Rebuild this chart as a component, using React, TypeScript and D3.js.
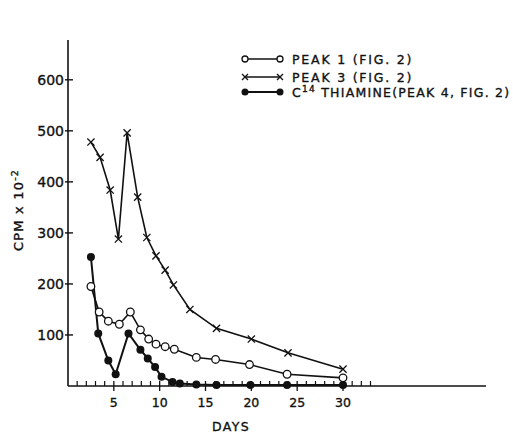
import React from "react";
import * as d3 from "d3";

// Days after administration for each fraction
const peak1Days = [2.5, 3.4, 4.4, 5.6, 6.8, 7.9, 8.8, 9.6, 10.6, 11.6, 14.0, 16.1, 19.8, 23.9, 30];
const peak1Cpm = [195, 145, 127, 121, 145, 110, 92, 82, 77, 72, 56, 52, 42, 23, 16];

const peak3Days = [2.5, 3.5, 4.6, 5.5, 6.45, 7.6, 8.6, 9.6, 10.6, 11.5, 13.3, 16.2, 20, 24, 30];
const peak3Cpm = [478, 448, 384, 288, 496, 370, 291, 255, 227, 198, 150, 113, 92, 65, 33];

const thiamineDays = [2.5, 3.3, 4.4, 5.2, 6.6, 7.9, 8.7, 9.5, 10.2, 11.4, 12.2, 14.0, 16.2, 19.9, 23.9, 30];
const thiamineCpm = [253, 103, 50, 23, 103, 71, 54, 37, 18, 8, 5, 3, 2, 2, 2, 2];

const xMajorTicks = [5, 10, 15, 20, 25, 30];
const xMinorTicks = d3.range(1, 34).filter((d) => d % 5 !== 0);
const yTicks = [100, 200, 300, 400, 500, 600];

const FONT = "'DejaVu Sans', Verdana, sans-serif";
const INK = "#111";

export default function App() {
  const width = 513;
  const height = 433;
  const x = d3.scaleLinear().domain([0, 45.6]).range([68, 486]);
  const y = d3.scaleLinear().domain([0, 678]).range([386, 40]);

  const line = d3
    .line<[number, number]>()
    .x((d) => x(d[0]))
    .y((d) => y(d[1]));

  const zip = (a: number[], b: number[]) => a.map((d, i) => [d, b[i]] as [number, number]);
  const p1 = zip(peak1Days, peak1Cpm);
  const p3 = zip(peak3Days, peak3Cpm);
  const th = zip(thiamineDays, thiamineCpm);

  const cross = (cx: number, cy: number, s: number, key: string) => (
    <path
      key={key}
      d={`M${cx - s},${cy - s}L${cx + s},${cy + s}M${cx - s},${cy + s}L${cx + s},${cy - s}`}
      stroke={INK}
      strokeWidth={1.3}
      fill="none"
    />
  );

  const x0 = x(0);
  const yBase = y(0);
  const textInk = { fill: INK, stroke: INK, strokeWidth: 0.35 };

  return (
    <svg
      width={width}
      height={height}
      style={{ position: "absolute", left: 0, top: 0, background: "#fff" }}
      fontFamily={FONT}
    >
      <rect width={width} height={height} fill="#fff" />

      {/* axes */}
      <line x1={x0} x2={x0} y1={y(678)} y2={yBase} stroke={INK} strokeWidth={1.6} />
      <line x1={x0} x2={x(45.6)} y1={yBase} y2={yBase} stroke={INK} strokeWidth={1.6} />

      {yTicks.map((t) => (
        <g key={`yt${t}`}>
          <line x1={x0 - 3} x2={x0 + 5} y1={y(t)} y2={y(t)} stroke={INK} strokeWidth={1.4} />
          <text x={x0 - 4} y={y(t)} dy="0.36em" textAnchor="end" fontSize={14} {...textInk}>
            {t}
          </text>
        </g>
      ))}

      {xMinorTicks.map((t) => (
        <line key={`xm${t}`} x1={x(t)} x2={x(t)} y1={yBase} y2={yBase - 5} stroke={INK} strokeWidth={1.2} />
      ))}
      {xMajorTicks.map((t) => (
        <g key={`xM${t}`}>
          <line x1={x(t)} x2={x(t)} y1={yBase - 5} y2={yBase + 5} stroke={INK} strokeWidth={1.3} />
          <text x={x(t)} y={407} textAnchor="middle" fontSize={12.5} {...textInk}>
            {t}
          </text>
        </g>
      ))}

      <text x={231} y={431} textAnchor="middle" fontSize={12.5} letterSpacing={1.4} {...textInk}>
        DAYS
      </text>
      <text
        transform={`translate(23,210) rotate(-90)`}
        textAnchor="middle"
        fontSize={13}
        letterSpacing={1.2}
        {...textInk}
      >
        CPM x 10
        <tspan dy={-5} fontSize={9.5}>
          -2
        </tspan>
      </text>

      {/* series lines */}
      <path d={line(p3) || ""} fill="none" stroke={INK} strokeWidth={1.6} />
      <path d={line(p1) || ""} fill="none" stroke={INK} strokeWidth={1.6} />
      <path d={line(th) || ""} fill="none" stroke={INK} strokeWidth={2} />

      {/* markers */}
      {p3.map((d, i) => cross(x(d[0]), y(d[1]), 3.6, `c${i}`))}
      {p1.map((d, i) => (
        <circle key={`o${i}`} cx={x(d[0])} cy={y(d[1])} r={3.8} fill="#fff" stroke={INK} strokeWidth={1.3} />
      ))}
      {th.map((d, i) => (
        <circle key={`f${i}`} cx={x(d[0])} cy={y(d[1])} r={4} fill={INK} />
      ))}

      {/* legend */}
      <g fontSize={12.5} letterSpacing={1.8}>
        <line x1={245} x2={280} y1={59} y2={59} stroke={INK} strokeWidth={1.5} />
        <circle cx={245} cy={59} r={3} fill="#fff" stroke={INK} strokeWidth={1.3} />
        <circle cx={280} cy={59} r={3} fill="#fff" stroke={INK} strokeWidth={1.3} />
        <text x={292} y={63.5} {...textInk}>PEAK 1 (FIG. 2)</text>

        <line x1={245} x2={280} y1={77} y2={77} stroke={INK} strokeWidth={1.5} />
        {cross(245, 77, 3, "lx1")}
        {cross(280, 77, 3, "lx2")}
        <text x={292} y={81.5} {...textInk}>PEAK 3 (FIG. 2)</text>

        <line x1={245} x2={280} y1={92} y2={92} stroke={INK} strokeWidth={1.8} />
        <circle cx={245} cy={92} r={3.5} fill={INK} />
        <circle cx={280} cy={92} r={3.5} fill={INK} />
        <text x={292} y={96.5} letterSpacing={1.25} {...textInk}>
          C
          <tspan dy={-5} fontSize={9}>
            14
          </tspan>
          <tspan dy={5}> THIAMINE(PEAK 4, FIG. 2)</tspan>
        </text>
      </g>
    </svg>
  );
}
